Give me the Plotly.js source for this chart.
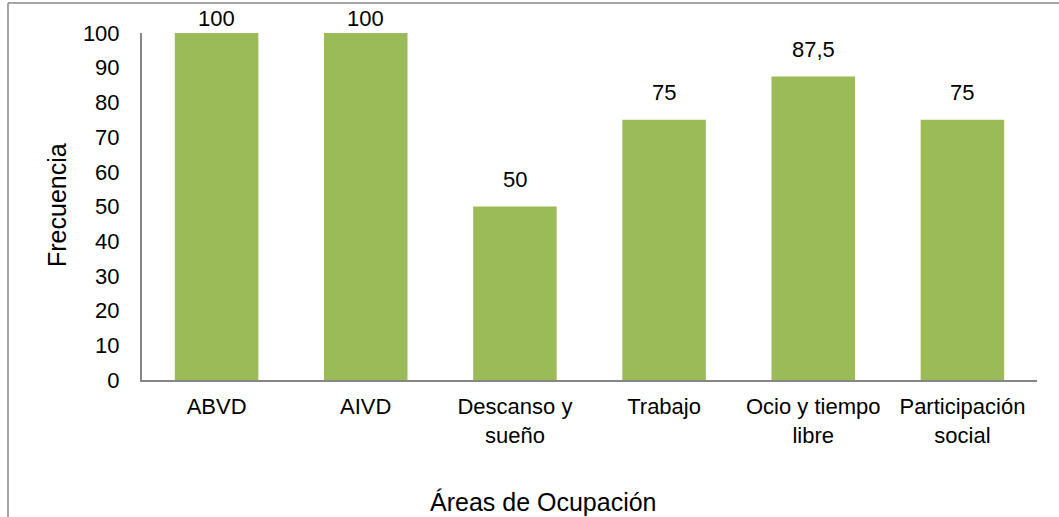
<!DOCTYPE html>
<html>
<head>
<meta charset="utf-8">
<script src="https://cdn.plot.ly/plotly-3.0.1.min.js"></script>
<style>html,body{margin:0;padding:0;background:#fff;}#chart{width:1059px;height:517px;}</style>
</head>
<body>
<div id="chart"></div>
<script>
const categories = ["ABVD", "AIVD", "Descanso y<br>sueño", "Trabajo", "Ocio y tiempo<br>libre", "Participación<br>social"];
const values = [100, 100, 50, 75, 87.5, 75];
const yTicks = [0, 10, 20, 30, 40, 50, 60, 70, 80, 90, 100];
const xTitle = "Áreas de Ocupación";
const yTitle = "Frecuencia";

const L = 142, R = 22, T = 33, B = 137, W = 1059, H = 517;
const pw = W - L - R, ph = H - T - B;
const px = x => (x - L) / pw;
const py = y => (H - B - y) / ph;

const font = {family: "Liberation Sans, Arial, sans-serif", color: "#000"};
const f = s => Object.assign({size: s}, font);

// data labels: placed above each bar, pushed down near the chart top (as in the original)
const labelAnns = categories.map((c, i) => {
  const v = values[i];
  const barTopPx = T + (100 - v) / 100 * ph;
  const centerPx = Math.max(barTopPx - 25, 20.5);
  return {
    text: String(v).replace(".", ","), x: c, y: v, xref: "x", yref: "y",
    xanchor: "center", yanchor: "middle", yshift: barTopPx - centerPx + 2,
    showarrow: false, font: f(22)
  };
});

Plotly.newPlot("chart", [{
  type: "bar",
  x: categories,
  y: values,
  marker: {color: "#9BBB59"},
  textposition: "none",
  cliponaxis: false,
  hoverinfo: "none"
}], {
  width: W, height: H,
  margin: {l: L, r: R, t: T, b: B},
  paper_bgcolor: "#fff",
  plot_bgcolor: "#fff",
  separators: ",.",
  bargap: 0.44,
  showlegend: false,
  font: font,
  xaxis: {
    type: "category",
    showline: true, linecolor: "#868686", linewidth: 2,
    ticks: "", showgrid: false, zeroline: false,
    tickfont: f(22),
    ticklabelstandoff: 6
  },
  yaxis: {
    range: [0, 100], tickvals: yTicks, ticktext: yTicks.map(String),
    showline: true, linecolor: "#868686", linewidth: 2,
    ticks: "", showgrid: false, zeroline: false,
    tickfont: f(22),
    ticklabelstandoff: 16
  },
  annotations: labelAnns.concat([
    {text: xTitle, xref: "paper", yref: "paper", x: px(543), y: py(502), xanchor: "center", yanchor: "middle", showarrow: false, font: f(25)},
    {text: yTitle, xref: "paper", yref: "paper", x: px(57), y: py(205), xanchor: "center", yanchor: "middle", textangle: -90, showarrow: false, font: f(25)}
  ]),
  shapes: [
    {type: "line", xref: "paper", yref: "paper", x0: px(8), x1: px(W + 5), y0: py(3), y1: py(3), line: {color: "#878787", width: 1.5}},
    {type: "line", xref: "paper", yref: "paper", x0: px(8), x1: px(8), y0: py(3), y1: py(H + 5), line: {color: "#878787", width: 1.5}}
  ]
}, {staticPlot: true});
</script>
</body>
</html>
